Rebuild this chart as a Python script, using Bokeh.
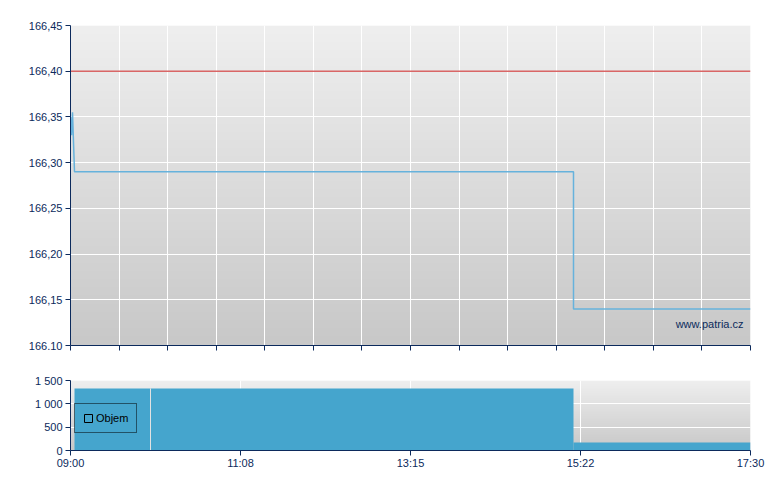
import numpy as np
from bokeh.plotting import figure
from bokeh.layouts import column
from bokeh.models import FixedTicker, Label, Range1d, Legend, LegendItem
from bokeh.embed import file_html
from bokeh.resources import INLINE

# ---- data ----
price_times = ["09:00:00", "09:00:45", "09:01:30", "09:03:00", "15:17:15", "15:17:15", "17:30:00"]
price_values = [166.35, 166.33, 166.355, 166.29, 166.29, 166.14, 166.14]
reference_price = 166.40

vol_start = ["09:03", "10:00", "15:17:15"]
vol_end = ["10:00", "15:17:15", "17:30"]
vol_values = [1330, 1330, 170]

price_ticks = [166.10, 166.15, 166.20, 166.25, 166.30, 166.35, 166.40, 166.45]
price_tick_labels = ["166.10", "166,15", "166,20", "166,25", "166,30", "166,35", "166,40", "166,45"]
vol_ticks = [0, 500, 1000, 1500]
vol_tick_labels = ["0", "500", "1 000", "1 500"]
time_tick_labels = ["09:00", "11:08", "13:15", "15:22", "17:30"]

session_start = "09:00"
session_end = "17:30"


def to_min(s):
    parts = [int(v) for v in s.split(":")]
    while len(parts) < 3:
        parts.append(0)
    return parts[0] * 60 + parts[1] + parts[2] / 60.0


x0 = to_min(session_start)
x1 = to_min(session_end)
px = [to_min(t) for t in price_times]
vs = [to_min(t) for t in vol_start]
ve = [to_min(t) for t in vol_end]

top_ticks = [x0 + k * (x1 - x0) / 14 for k in range(15)]
bottom_ticks = [x0 + k * (x1 - x0) / 4 for k in range(5)]

NAVY = "#0c2a5c"
FONT = "Liberation Sans"


def gradient(n, top=0xEF, bottom=0xC8):
    img = np.empty((n, 1), dtype=np.uint32)
    view = img.view(dtype=np.uint8).reshape((n, 1, 4))
    vals = np.linspace(bottom, top, n).astype(np.uint8)
    view[:, 0, 0] = vals
    view[:, 0, 1] = vals
    view[:, 0, 2] = vals
    view[:, 0, 3] = 255
    return img


def style(p):
    p.outline_line_color = None
    for ax in (p.xaxis[0], p.yaxis[0]):
        ax.axis_line_color = NAVY
        ax.major_tick_line_color = NAVY
        ax.minor_tick_line_color = None
        ax.major_tick_out = 5
        ax.major_tick_in = 0
        ax.major_label_text_color = NAVY
        ax.major_label_text_font = FONT
        ax.major_label_text_font_size = "11px"
        ax.major_label_standoff = 3
    p.xgrid.grid_line_color = "white"
    p.ygrid.grid_line_color = "white"
    p.xgrid.grid_line_width = 1
    p.ygrid.grid_line_width = 1


# ---- top price chart ----
p1 = figure(width=778, height=363, x_range=Range1d(x0, x1),
            y_range=Range1d(price_ticks[0], price_ticks[-1]),
            output_backend="svg", toolbar_location=None,
            min_border_left=70, min_border_right=28, min_border_top=25, min_border_bottom=18)
style(p1)
p1.image_rgba(image=[gradient(320)], x=x0, y=price_ticks[0], dw=x1 - x0,
              dh=price_ticks[-1] - price_ticks[0], level="image")
p1.xaxis.ticker = FixedTicker(ticks=top_ticks)
p1.xgrid.ticker = FixedTicker(ticks=top_ticks)
p1.xaxis.major_label_overrides = {t: "" for t in top_ticks}
p1.xaxis.major_label_standoff = 0
p1.yaxis.ticker = FixedTicker(ticks=price_ticks)
p1.ygrid.ticker = FixedTicker(ticks=price_ticks)
p1.yaxis.major_label_overrides = {t: l for t, l in zip(price_ticks, price_tick_labels)}

p1.line([x0, x1], [reference_price, reference_price], line_color="#d24b4b", line_width=1.5, line_alpha=0.85)
p1.line(px, price_values, line_color="#66b2dc", line_width=1.5)

p1.add_layout(Label(x=x1, y=price_ticks[0], text="www.patria.cz", x_offset=-7, y_offset=22,
                    text_align="right", text_baseline="middle", text_font=FONT,
                    text_font_size="11px", text_color=NAVY))

# ---- bottom volume chart ----
p2 = figure(width=778, height=117, x_range=p1.x_range,
            y_range=Range1d(vol_ticks[0], vol_ticks[-1]),
            output_backend="svg", toolbar_location=None,
            min_border_left=70, min_border_right=28, min_border_top=17, min_border_bottom=30)
style(p2)
p2.image_rgba(image=[gradient(70)], x=x0, y=vol_ticks[0], dw=x1 - x0,
              dh=vol_ticks[-1] - vol_ticks[0], level="image")
p2.xaxis.ticker = FixedTicker(ticks=bottom_ticks)
p2.xgrid.ticker = FixedTicker(ticks=bottom_ticks)
p2.xaxis.major_label_overrides = {t: l for t, l in zip(bottom_ticks, time_tick_labels)}
p2.xaxis.major_label_standoff = 1
p2.yaxis.ticker = FixedTicker(ticks=vol_ticks)
p2.ygrid.ticker = FixedTicker(ticks=vol_ticks)
p2.yaxis.major_label_overrides = {t: l for t, l in zip(vol_ticks, vol_tick_labels)}

p2.quad(left=vs, right=ve, bottom=[0] * len(vol_values), top=vol_values,
        fill_color="#45a5cd", line_color=None)
# separators between adjacent bars of equal height
sep_x = [vs[i] for i in range(1, len(vs)) if vol_values[i] == vol_values[i - 1]]
sep_top = [vol_values[i] for i in range(1, len(vs)) if vol_values[i] == vol_values[i - 1]]
p2.segment(x0=sep_x, x1=sep_x, y0=[0] * len(sep_x), y1=sep_top, line_color="#e2e2e2", line_width=1)

leg_r = p2.quad(left=[np.nan], right=[np.nan], top=[np.nan], bottom=[np.nan],
                fill_alpha=0, line_color="black", line_width=1)
legend = Legend(items=[LegendItem(label="Objem", renderers=[leg_r])], location=(4, 17),
                background_fill_alpha=0, border_line_color="black", border_line_width=1,
                label_text_font=FONT, label_text_font_size="11px", label_text_color="black",
                glyph_width=10, glyph_height=10, label_height=12, padding=8, margin=0,
                spacing=0, label_standoff=3)
p2.add_layout(legend, "center")

layout = column(p1, p2, spacing=0)
open("out.html", "w").write(file_html(layout, INLINE))
